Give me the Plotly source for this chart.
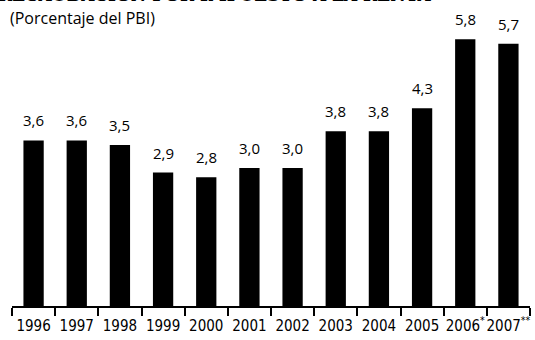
import plotly.graph_objects as go

# Income tax revenue as % of GDP
years = ["1996", "1997", "1998", "1999", "2000", "2001", "2002",
         "2003", "2004", "2005", "2006<sup>*</sup>", "2007<sup>**</sup>"]
values = [3.6, 3.6, 3.5, 2.9, 2.8, 3.0, 3.0, 3.8, 3.8, 4.3, 5.8, 5.7]

fig = go.Figure(
    go.Bar(
        x=years,
        y=values,
        marker=dict(color="black", line=dict(width=0)),
        width=0.47,
        hoverinfo="x+y",
    )
)

# value labels above each bar (category index on x), decimal comma
labels = [
    dict(
        x=i, y=v, xref="x", yref="y",
        text=f"{v:.1f}".replace(".", ","),
        showarrow=False, yanchor="bottom", yshift=8,
        font=dict(family="Open Sans", size=15, color="black"),
    )
    for i, v in enumerate(values)
]

fig.update_layout(
    width=535,
    height=340,
    margin=dict(l=12, r=5, t=30, b=34),
    paper_bgcolor="white",
    plot_bgcolor="white",
    showlegend=False,
    xaxis=dict(
        type="category",
        range=[-0.5, len(years) - 0.5],
        tickson="boundaries",
        ticks="outside",
        ticklen=8,
        tickwidth=1.5,
        tickcolor="black",
        tickangle=0,
        ticklabelstandoff=5,
        automargin=False,
        showline=True,
        linecolor="black",
        linewidth=1.5,
        showgrid=False,
        tickfont=dict(family="Liberation Sans Narrow, DejaVu Sans Condensed",
                      size=15, color="black"),
    ),
    yaxis=dict(range=[0, 6], visible=False, showgrid=False),
    annotations=labels + [
        dict(
            text="<b>RECAUDACIÓN POR IMPUESTO A LA RENTA</b>",
            xref="paper", yref="paper", x=-0.03, y=1.085,
            xanchor="left", yanchor="bottom", showarrow=False,
            font=dict(family="DejaVu Serif", size=17, color="black"),
        ),
        dict(
            text="(Porcentaje del PBI)",
            xref="paper", yref="paper", x=-0.008, y=1.045,
            xanchor="left", yanchor="middle", showarrow=False,
            font=dict(family="Open Sans", size=16, color="black"),
        ),
    ],
)

fig.write_html("out.html")
